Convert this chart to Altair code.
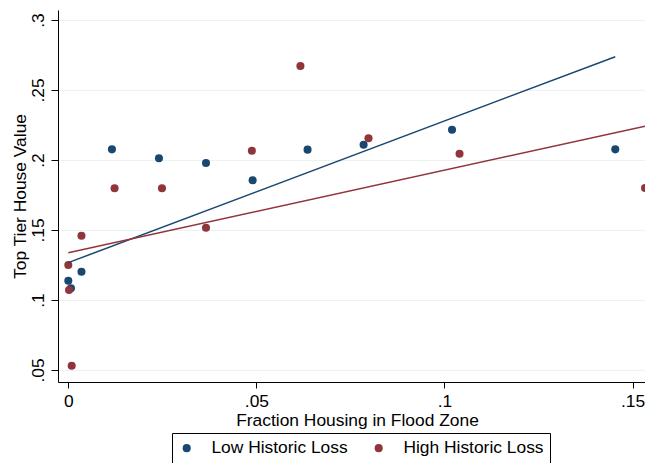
import altair as alt
import pandas as pd

# ---- data ----
groups = ["Low Historic Loss", "High Historic Loss"]
colors = ["#1a476f", "#90353b"]

low_x = [0.0, 0.0007, 0.0035, 0.0116, 0.0241, 0.0366, 0.0490, 0.0636, 0.0785, 0.1020, 0.1454]
low_y = [0.1138, 0.1084, 0.1202, 0.2076, 0.2012, 0.1979, 0.1855, 0.2074, 0.2109, 0.2216, 0.2076]

high_x = [0.0, 0.0002, 0.0009, 0.0035, 0.0123, 0.0249, 0.0366, 0.0488, 0.0617, 0.0798, 0.1040, 0.1533]
high_y = [0.1250, 0.1071, 0.0531, 0.1459, 0.1798, 0.1798, 0.1516, 0.2066, 0.2671, 0.2155, 0.2045, 0.1800]

fit_low_x = [0.0, 0.1454]
fit_low_y = [0.1267, 0.2738]
fit_high_x = [0.0, 0.1533]
fit_high_y = [0.1338, 0.2241]

x_ticks = [0, 0.05, 0.1, 0.15]
y_ticks = [0.05, 0.1, 0.15, 0.2, 0.25, 0.3]

x_title = "Fraction Housing in Flood Zone"
y_title = "Top Tier House Value"

pts = pd.DataFrame({
    "x": low_x + high_x,
    "y": low_y + high_y,
    "g": [groups[0]] * len(low_x) + [groups[1]] * len(high_x),
})
fit = pd.DataFrame({
    "x": fit_low_x + fit_high_x,
    "y": fit_low_y + fit_high_y,
    "g": [groups[0]] * len(fit_low_x) + [groups[1]] * len(fit_high_x),
})

FONT = "Liberation Sans"
FS = 17.4
label_expr = "datum.value == 0 ? '0' : substring(format(datum.value, '.2~f'), 1)"

xscale = alt.Scale(domain=[-0.00274, 0.1533], nice=False, zero=False)
yscale = alt.Scale(domain=[0.04143, 0.30714], nice=False, zero=False)

x_enc = alt.X("x:Q", scale=xscale, axis=alt.Axis(
    values=x_ticks, labelExpr=label_expr, title=x_title, grid=False,
    tickSize=6, labelPadding=4, labelFlush=False, labelOverlap=False,
    labelFont=FONT, labelFontSize=FS, labelColor="black",
    titleFont=FONT, titleFontSize=FS, titleFontWeight="normal", titleColor="black",
    titleX=299, titleY=43, titleAlign="center", titleBaseline="alphabetic",
    domainColor="black", tickColor="black", domainWidth=1, tickWidth=1,
))
y_enc = alt.Y("y:Q", scale=yscale, axis=alt.Axis(
    values=y_ticks, labelExpr=label_expr, title=y_title, grid=True,
    gridColor="#eaf2f3", gridWidth=1,
    tickSize=7, labelPadding=8, labelAngle=270, labelAlign="center",
    labelBaseline="alphabetic", labelOverlap=False, labelFlush=False,
    labelFont=FONT, labelFontSize=FS, labelColor="black",
    titleFont=FONT, titleFontSize=FS, titleFontWeight="normal", titleColor="black",
    titleAngle=270, titleX=-33, titleY=186, titleAlign="center", titleBaseline="alphabetic",
    domainColor="black", tickColor="black", domainWidth=1, tickWidth=1,
))

color = alt.Color("g:N", scale=alt.Scale(domain=groups, range=colors), legend=alt.Legend(
    orient="none", legendX=114, legendY=423, direction="horizontal", title=None,
    labelFont=FONT, labelFontSize=FS, labelColor="black",
    labelExpr="datum.label + '\u00a0\u00a0'",
    symbolType="circle", symbolSize=65, symbolStrokeWidth=0, symbolOpacity=1,
    labelOffset=16, columnPadding=22, padding=6,
    strokeColor="black", fillColor="white",
))

points = alt.Chart(pts).mark_circle(size=65, opacity=1, clip=True).encode(
    x=x_enc, y=y_enc, color=color)

lines = alt.Chart(fit).mark_line(strokeWidth=1.5, clip=True).encode(
    x="x:Q", y="y:Q", color=alt.Color("g:N", legend=None), detail="g:N")

chart = alt.layer(points, lines).properties(
    width=587, height=372,
    autosize=alt.AutoSizeParams(type="none"),
    padding={"left": 50, "top": 2, "right": 0, "bottom": 81},
    background="white",
).configure_view(stroke=None)

chart.save("out.html", embed_options={"renderer": "svg", "actions": False})
